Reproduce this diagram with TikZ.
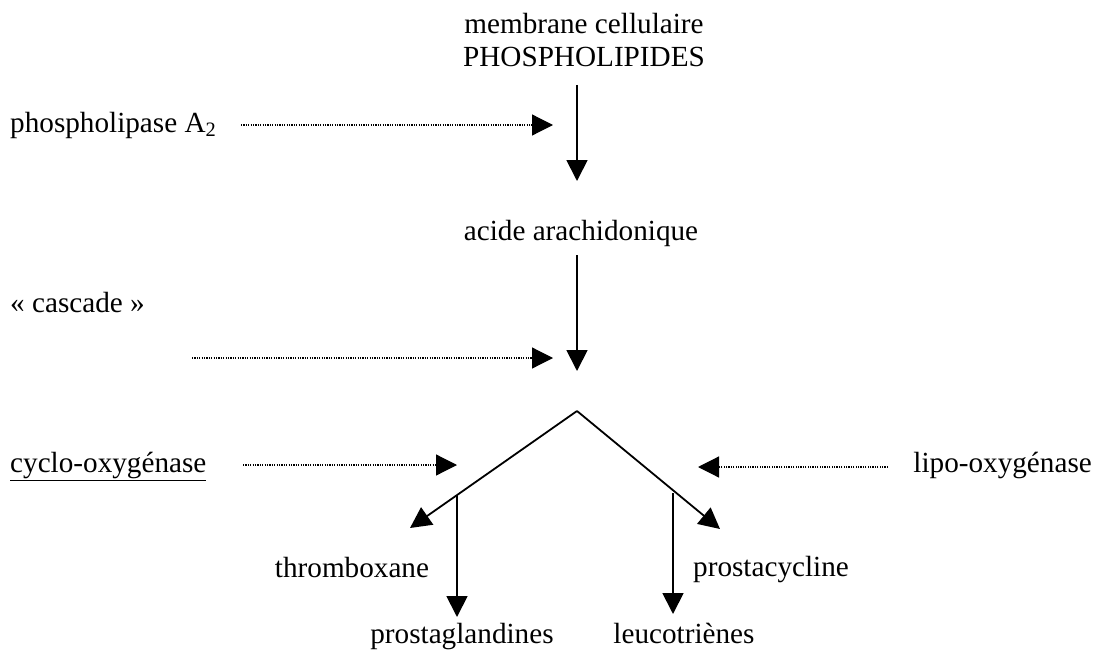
\documentclass[tikz,border=0pt]{standalone}
\usepackage{fontspec}
\setmainfont{Liberation Serif}
\usetikzlibrary{arrows.meta}
\begin{document}
\begin{tikzpicture}[x=1pt,y=-1pt,
  lbl/.style={inner sep=0pt,font=\fontsize{29.2}{34}\selectfont},
  flow/.style={line width=1.8pt,-{Triangle[length=21pt,width=21pt]}},
  enz/.style={line width=1.2pt,dash pattern=on 1.2pt off 1.2pt,-{Triangle[length=21pt,width=21pt]}}]
\useasboundingbox (0,0) rectangle (1100,650);
% texts
\node[lbl,anchor=base] (mem) at (584,34) {membrane cellulaire};
\node[lbl,anchor=base] (phl) at (584,67) {PHOSPHOLIPIDES};
\node[lbl,anchor=base west] (pla) at (10,132) {phospholipase A\textsubscript{2}};
\node[lbl,anchor=base] (aa) at (581,240) {acide arachidonique};
\node[lbl,anchor=base west] (cas) at (10,312) {« cascade »};
\node[lbl,anchor=base west] (cox) at (10,472) {\underline{cyclo-oxygénase}};
\node[lbl,anchor=base east] (lox) at (1092,472) {lipo-oxygénase};
\node[lbl,anchor=base] (tbx) at (352,577) {thromboxane};
\node[lbl,anchor=base west] (pcy) at (693,576) {prostacycline};
\node[lbl,anchor=base] (pgl) at (462,643) {prostaglandines};
\node[lbl,anchor=base] (ltr) at (684,643) {leucotriènes};
% coordinates
\coordinate (a1s) at (577,85);
\coordinate (a1e) at (577,181);
\coordinate (a2s) at (577,255);
\coordinate (a2e) at (577,371);
\coordinate (apex) at (577,411);
\coordinate (ltip) at (410,528);
\coordinate (rtip) at (720,529);
\coordinate (lb) at (457,495);
\coordinate (lbe) at (457,617);
\coordinate (rb) at (673,493);
\coordinate (rbe) at (673,614);
\coordinate (d1s) at (241,125);
\coordinate (d1e) at (553,125);
\coordinate (d2s) at (192,358);
\coordinate (d2e) at (553,358);
\coordinate (d3s) at (243,465);
\coordinate (d3e) at (457,465);
\coordinate (d4s) at (888,467);
\coordinate (d4e) at (698,467);
% connectors
\draw[flow] (a1s) -- (a1e);
\draw[flow] (a2s) -- (a2e);
\draw[flow] (apex) -- (ltip);
\draw[flow] (apex) -- (rtip);
\draw[flow] (lb) -- (lbe);
\draw[flow] (rb) -- (rbe);
\draw[enz] (d1s) -- (d1e);
\draw[enz] (d2s) -- (d2e);
\draw[enz] (d3s) -- (d3e);
\draw[enz] (d4s) -- (d4e);
\end{tikzpicture}
\end{document}
